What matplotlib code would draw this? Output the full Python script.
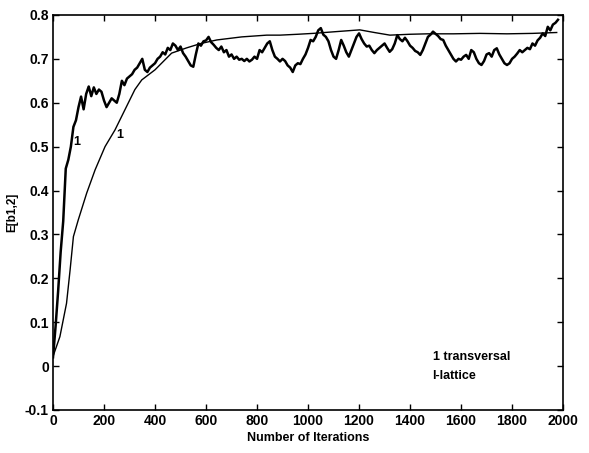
import numpy as np
import matplotlib
matplotlib.use("Agg")
import matplotlib.pyplot as plt

# ==========================
# DATA
# ==========================

# noisy curve (transversal), one value every 10 iterations, 0..1980
trans_x = np.arange(0, 1990, 10)
trans_y = [
    0.02, 0.09, 0.17, 0.26, 0.33, 0.45, 0.47, 0.50, 0.545, 0.56,
    0.59, 0.614, 0.585, 0.62, 0.637, 0.615, 0.635, 0.62, 0.63, 0.625,
    0.605, 0.59, 0.60, 0.61, 0.605, 0.60, 0.62, 0.65, 0.64, 0.655,
    0.66, 0.665, 0.675, 0.68, 0.69, 0.70, 0.675, 0.67, 0.68, 0.685,
    0.69, 0.70, 0.705, 0.715, 0.71, 0.725, 0.72, 0.735, 0.73, 0.72,
    0.728, 0.713, 0.705, 0.695, 0.685, 0.682, 0.71, 0.735, 0.73, 0.74,
    0.742, 0.75, 0.738, 0.732, 0.725, 0.72, 0.728, 0.715, 0.72, 0.705,
    0.71, 0.70, 0.705, 0.698, 0.70, 0.695, 0.70, 0.694, 0.698, 0.705,
    0.70, 0.72, 0.715, 0.725, 0.735, 0.74, 0.72, 0.705, 0.70, 0.694,
    0.70, 0.695, 0.685, 0.68, 0.67, 0.685, 0.69, 0.688, 0.70, 0.71,
    0.725, 0.743, 0.74, 0.75, 0.765, 0.77, 0.755, 0.75, 0.74, 0.72,
    0.705, 0.70, 0.72, 0.743, 0.73, 0.715, 0.705, 0.72, 0.735, 0.75,
    0.758, 0.745, 0.735, 0.728, 0.73, 0.72, 0.713, 0.72, 0.725, 0.73,
    0.735, 0.725, 0.716, 0.722, 0.735, 0.754, 0.745, 0.74, 0.748, 0.74,
    0.73, 0.725, 0.718, 0.715, 0.709, 0.72, 0.735, 0.75, 0.755, 0.762,
    0.757, 0.752, 0.745, 0.743, 0.73, 0.72, 0.71, 0.70, 0.694, 0.70,
    0.698, 0.705, 0.709, 0.70, 0.72, 0.715, 0.70, 0.69, 0.686, 0.695,
    0.71, 0.713, 0.705, 0.72, 0.724, 0.71, 0.70, 0.69, 0.686, 0.69,
    0.70, 0.705, 0.712, 0.72, 0.715, 0.72, 0.725, 0.722, 0.735, 0.73,
    0.742, 0.748, 0.758, 0.752, 0.773, 0.765, 0.778, 0.782, 0.789,
]

# smooth curve (lattice)
lat_x = [0, 27, 53, 67, 80, 99, 132, 165, 204, 243, 282, 321, 348, 400,
         465, 524, 580, 642, 740, 838, 890, 960, 1020, 1110, 1203, 1260,
         1321, 1400, 1470, 1570, 1674, 1780, 1880, 1975]
lat_y = [0.022, 0.067, 0.143, 0.219, 0.295, 0.333, 0.394, 0.447, 0.50,
         0.538, 0.584, 0.63, 0.652, 0.675, 0.713, 0.725, 0.735, 0.743,
         0.75, 0.754, 0.754, 0.756, 0.758, 0.762, 0.766, 0.76, 0.754,
         0.756, 0.757, 0.757, 0.758, 0.757, 0.758, 0.76]

x_ticks = [0, 200, 400, 600, 800, 1000, 1200, 1400, 1600, 1800, 2000]
y_ticks = [-0.1, 0, 0.1, 0.2, 0.3, 0.4, 0.5, 0.6, 0.7, 0.8]
y_tick_labels = ["-0.1", "0", "0.1", "0.2", "0.3", "0.4", "0.5", "0.6",
                 "0.7", "0.8"]

# ==========================
# PLOT
# ==========================

plt.rcParams["font.family"] = ["Liberation Sans", "DejaVu Sans"]
plt.rcParams["font.weight"] = "bold"

fig = plt.figure(figsize=(5.89, 4.53), dpi=100)
ax = fig.add_axes([0.090, 0.095, 0.866, 0.872])

ax.plot(trans_x, trans_y, color="black", linewidth=1.8)
ax.plot(lat_x, lat_y, color="black", linewidth=1.0)

# small curve markers
ax.text(94, 0.51, "1", fontsize=9, ha="center", va="center")
ax.text(263, 0.527, "1", fontsize=9, ha="center", va="center")

ax.text(1488, 0.02, "1 transversal", fontsize=9, ha="left", va="center")
ax.text(1488, -0.023, "l-lattice", fontsize=9, ha="left", va="center")

ax.set_xlim(0, 2000)
ax.set_ylim(-0.1, 0.8)
ax.set_xticks(x_ticks)
ax.set_yticks(y_ticks)
ax.set_yticklabels(y_tick_labels)
ax.tick_params(direction="in", top=True, right=True, length=4,
               labelsize=10, width=1, pad=3)
for lbl in ax.get_xticklabels() + ax.get_yticklabels():
    lbl.set_fontweight("bold")
for sp in ax.spines.values():
    sp.set_linewidth(1.2)

ax.set_xlabel("Number of Iterations", fontsize=9, fontweight="bold",
              labelpad=3)
ax.set_ylabel("E[b1,2]", fontsize=8.5, fontweight="bold", labelpad=5)

fig.savefig("out.png", dpi=100)
